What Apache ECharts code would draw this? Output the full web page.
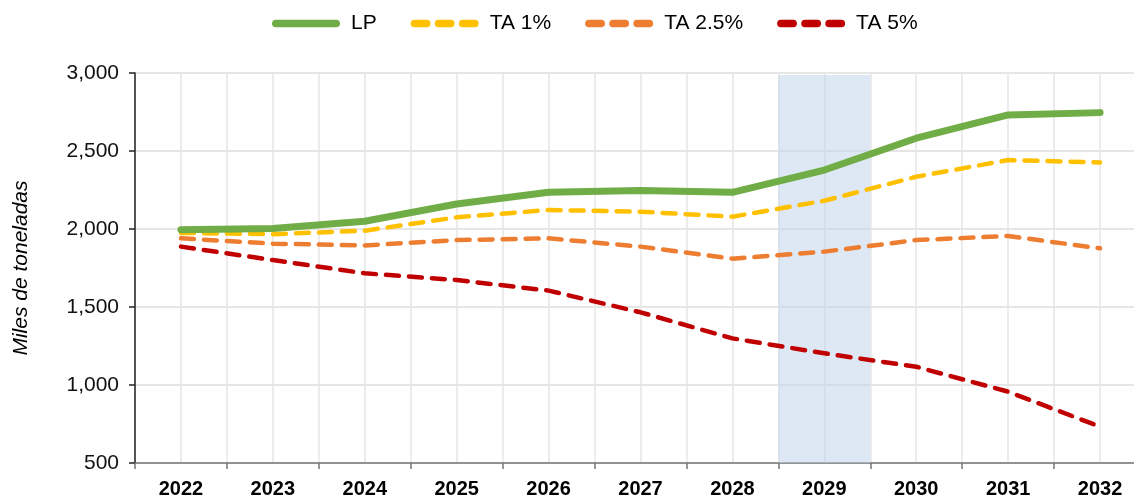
<!DOCTYPE html>
<html>
<head>
<meta charset="utf-8">
<script src="https://cdn.jsdelivr.net/npm/echarts@6/dist/echarts.min.js"></script>
<style>
  html, body { margin: 0; padding: 0; background: #fff; }
  #main { width: 1134px; height: 497px; }
</style>
</head>
<body>
<div id="main"></div>
<script>
// años
var years = ["2022", "2023", "2024", "2025", "2026", "2027", "2028", "2029", "2030", "2031", "2032"];

// miles de toneladas
var lp = [1995, 2003, 2050, 2160, 2235, 2246, 2235, 2378, 2582, 2731, 2746];
var ta1 = [1975, 1967, 1989, 2075, 2122, 2111, 2079, 2181, 2335, 2442, 2427];
var ta25 = [1940, 1906, 1895, 1929, 1940, 1887, 1810, 1855, 1929, 1955, 1876];
var ta5 = [1887, 1801, 1716, 1673, 1605, 1466, 1299, 1203, 1117, 957, 733];

var yTicks = [500, 1000, 1500, 2000, 2500, 3000];

// franja sombreada (2029)
var bandFrom = 6.5;
var bandTo = 7.5;

var font = "Liberation Sans, Arial, sans-serif";

// iconos de la leyenda: línea continua y tres trazos
var solidIcon = "path://M4,0 H68 A4,4 0 0 1 68,8 H4 A4,4 0 0 1 4,0 Z";
var dashIcon = "path://M4,0 H17 A4,4 0 0 1 17,8 H4 A4,4 0 0 1 4,0 Z " +
  "M29.5,0 H42.5 A4,4 0 0 1 42.5,8 H29.5 A4,4 0 0 1 29.5,0 Z " +
  "M55,0 H68 A4,4 0 0 1 68,8 H55 A4,4 0 0 1 55,0 Z";

var myChart = echarts.init(document.getElementById("main"));

function dashed(name, data, color) {
  return {
    name: name,
    type: "line",
    data: data,
    symbol: "none",
    z: 3,
    lineStyle: { color: color, width: 4.5, type: [13, 10], cap: "round", join: "round" },
    itemStyle: { color: color }
  };
}

var option = {
  animation: false,
  textStyle: { fontFamily: font },
  legend: {
    data: [
      { name: "LP", icon: solidIcon },
      { name: "TA 1%", icon: dashIcon },
      { name: "TA 2.5%", icon: dashIcon },
      { name: "TA 5%", icon: dashIcon }
    ],
    top: 8,
    left: 267,
    itemWidth: 68,
    itemHeight: 8,
    itemGap: 34,
    textStyle: { fontSize: 21, color: "#000", fontFamily: font, padding: [0, 0, 0, 6] }
  },
  grid: {
    left: 135,
    top: 73,
    width: 1011,
    height: 390,
    containLabel: false,
    outerBoundsMode: "none"
  },
  xAxis: [
    {
      type: "category",
      data: years,
      boundaryGap: true,
      axisLine: { lineStyle: { color: "#777", width: 1.5 } },
      axisTick: { show: true, length: 6, lineStyle: { color: "#777", width: 1.5 } },
      axisLabel: { color: "#000", fontSize: 20, fontWeight: "bold", margin: 16, fontFamily: font },
      splitLine: { show: false }
    },
    {
      // eje oculto para las líneas verticales de la cuadrícula
      type: "value",
      min: -0.5,
      max: 10.5,
      interval: 0.5,
      position: "bottom",
      axisLine: { show: false },
      axisTick: { show: false },
      axisLabel: { show: false },
      splitLine: { show: true, lineStyle: { color: "#e6e6e6", width: 1.5 } }
    }
  ],
  yAxis: {
    type: "value",
    min: 500,
    max: 3000,
    interval: 500,
    name: "Miles de toneladas",
    nameLocation: "middle",
    nameGap: 103,
    nameTextStyle: { fontSize: 21, fontStyle: "italic", color: "#000", fontFamily: font },
    axisLine: { show: true, onZero: false, lineStyle: { color: "#222", width: 1.5 } },
    axisTick: { show: true, length: 6, lineStyle: { color: "#222", width: 1.5 } },
    axisLabel: {
      color: "#111",
      fontSize: 21,
      margin: 16,
      fontFamily: font,
      formatter: function (v) {
        return yTicks.indexOf(v) >= 0 ? v.toLocaleString("en-US") : "";
      }
    },
    splitLine: { show: true, lineStyle: { color: "#e6e6e6", width: 2 } }
  },
  series: [
    {
      name: "LP",
      type: "line",
      data: lp,
      symbol: "none",
      z: 4,
      lineStyle: { color: "#70ad47", width: 7, cap: "round", join: "round" },
      itemStyle: { color: "#70ad47" }
    },
    dashed("TA 1%", ta1, "#ffc000"),
    dashed("TA 2.5%", ta25, "#ed7d31"),
    dashed("TA 5%", ta5, "#c00000"),
    {
      name: "franja",
      type: "line",
      xAxisIndex: 1,
      data: [],
      z: 10,
      silent: true,
      markArea: {
        silent: true,
        itemStyle: { color: "rgba(187, 209, 234, 0.5)" },
        data: [[{ xAxis: bandFrom, yAxis: 2987 }, { xAxis: bandTo, yAxis: 500 }]]
      }
    }
  ]
};

option && myChart.setOption(option);
</script>
</body>
</html>
